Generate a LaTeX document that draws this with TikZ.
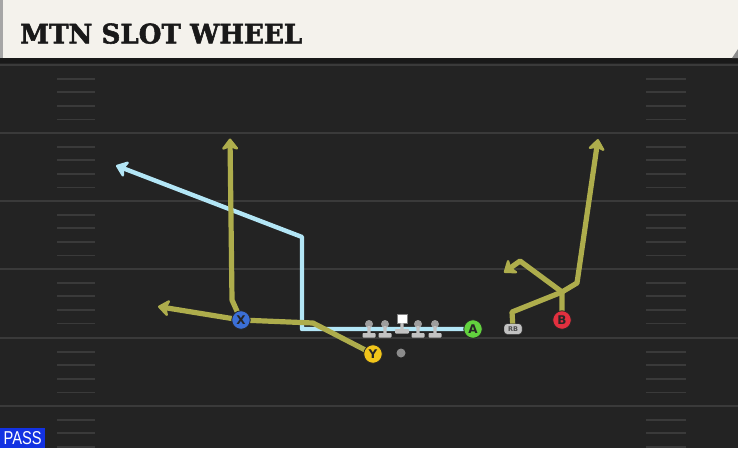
\documentclass[tikz,border=0pt]{standalone}
\usepackage{fontspec}
\setmainfont{DejaVu Serif}
\newfontfamily\titlef{DejaVu Serif}[FakeBold=2]
\newfontfamily\sansf{Liberation Sans}
\newfontfamily\labf{DejaVu Sans}
\usetikzlibrary{arrows.meta}
\definecolor{fieldbg}{HTML}{232323}
\definecolor{yardc}{HTML}{3A3A3A}
\definecolor{titlebg}{HTML}{F4F2EC}
\definecolor{bluer}{HTML}{B3E6F6}
\definecolor{olive}{HTML}{AEAD4C}
\definecolor{xblue}{HTML}{3B6FD6}
\definecolor{yyel}{HTML}{F2C51A}
\definecolor{agreen}{HTML}{62D23E}
\definecolor{bred}{HTML}{E2303F}
\definecolor{passblue}{HTML}{1332E2}
\definecolor{olhead}{HTML}{9E9E9E}
\definecolor{olbody}{HTML}{C2C2C2}
\pgfdeclarelayer{back}
\pgfdeclarelayer{routes}
\pgfsetlayers{back,routes,main}
\tikzset{
  yard/.style={draw=yardc, line width=2pt},
  hashm/.style={draw=yardc, line width=1.8pt},
  player/.style={circle, draw=black!85, line width=0.8pt, minimum size=18.5pt, inner sep=0pt,
    font=\labf\bfseries\fontsize{12}{12}\selectfont, text=black!85},
  route/.style={line width=5.2pt, line join=round, draw=olive},
  blueroute/.style={line width=4.4pt, line join=round, draw=bluer},
  tip/.style={-{Stealth[length=13pt,width=20pt,inset=3.5pt,round]}},
  lineman/.style={fill=olbody, rounded corners=0.8pt}
}
\begin{document}
\begin{tikzpicture}[x=1pt,y=-1pt]
\useasboundingbox (0,0) rectangle (738,448);
\begin{pgfonlayer}{back}
\fill[fieldbg] (0,0) rectangle (738,448);
\foreach \y in {65,133,201,269,338,406} \draw[yard] (0,\y) -- (738,\y);
\foreach \b in {65,133,201,269,338,406} {
  \foreach \k in {1,2,3} {
    \draw[hashm] (57,\b+13.6*\k) -- (95,\b+13.6*\k);
    \draw[hashm] (646,\b+13.6*\k) -- (686,\b+13.6*\k);
  }
}
\foreach \b in {65,133,201,269,338} {
  \draw[hashm] (57,\b+54.4) -- (95,\b+54.4);
  \draw[hashm] (646,\b+54.4) -- (686,\b+54.4);
}
% title bar
\fill[black!90] (0,57) rectangle (738,63);
\fill[titlebg] (0,0) rectangle (738,58);
\fill[black!35] (0,0) rectangle (3,58);
\fill[black!45] (732,58) -- (738,58) -- (738,49) -- cycle;
\end{pgfonlayer}

\node[anchor=south west, inner sep=0pt, text=black!90] (title) at (20,44)
  {\resizebox{282pt}{20pt}{\titlef\bfseries MTN SLOT WHEEL}};
\node[anchor=south west, fill=passblue, minimum width=45pt, minimum height=20pt, inner sep=0pt] (pass) at (0,448) {};
\node[text=white, inner sep=0pt] (passtxt) at (pass.center) {\resizebox{38pt}{13pt}{\sansf PASS}};

% players
\node[player, fill=xblue] (X) at (241,320) {X};
\node[player, fill=yyel] (Y) at (373,354) {Y};
\node[player, fill=agreen] (A) at (473,329) {A};
\node[player, fill=bred] (B) at (562,320) {B};
\node[draw=black!85, fill=olbody, rounded corners=3pt, minimum width=18pt, minimum height=10.5pt, inner sep=0pt,
  font=\labf\bfseries\fontsize{6.5}{6.5}\selectfont, text=black!70] (RB) at (513,329) {RB};
\node[circle, fill=black!45, minimum size=9pt, inner sep=0pt] (QB) at (401,353) {};

% offensive line
\foreach \x in {369,385,418,435} {
  \fill[olhead] (\x,324) circle (4);
  \fill[lineman] (\x-1.6,326) rectangle (\x+1.6,334);
  \fill[lineman] (\x-6.5,333) rectangle (\x+6.5,337.5);
}
\node[draw=black!50, fill=white, minimum size=9.5pt, inner sep=0pt] (C) at (402,318.5) {};
\fill[lineman] (400.4,323) rectangle (403.6,330);
\fill[lineman] (395,329) rectangle (409,333.5);

% routes
\begin{pgfonlayer}{routes}
\coordinate (a1) at (302,329);
\coordinate (a2) at (302,237);
\coordinate (a3) at (116,165.5);
\draw[blueroute, tip] (A.center) -- (a1) -- (a2) -- (a3);

\coordinate (y1) at (313,323);
\coordinate (y2) at (158,306.5);
\draw[route, tip] (Y.center) -- (y1) -- (X.center) -- (y2);

\coordinate (x1) at (232,300);
\coordinate (x2) at (230,138.5);
\draw[route, tip] (X.center) -- (x1) -- (x2);

\coordinate (r1) at (512,312);
\coordinate (j) at (562,292);
\coordinate (r2) at (577,283);
\coordinate (r3) at (598,139);
\draw[route, tip] (RB.center) -- (r1) -- (j) -- (r2) -- (r3);

\coordinate (b1) at (520,261);
\coordinate (b2) at (504,272.5);
\draw[route, tip] (B.center) -- (j) -- (b1) -- (b2);
\end{pgfonlayer}
\end{tikzpicture}
\end{document}
